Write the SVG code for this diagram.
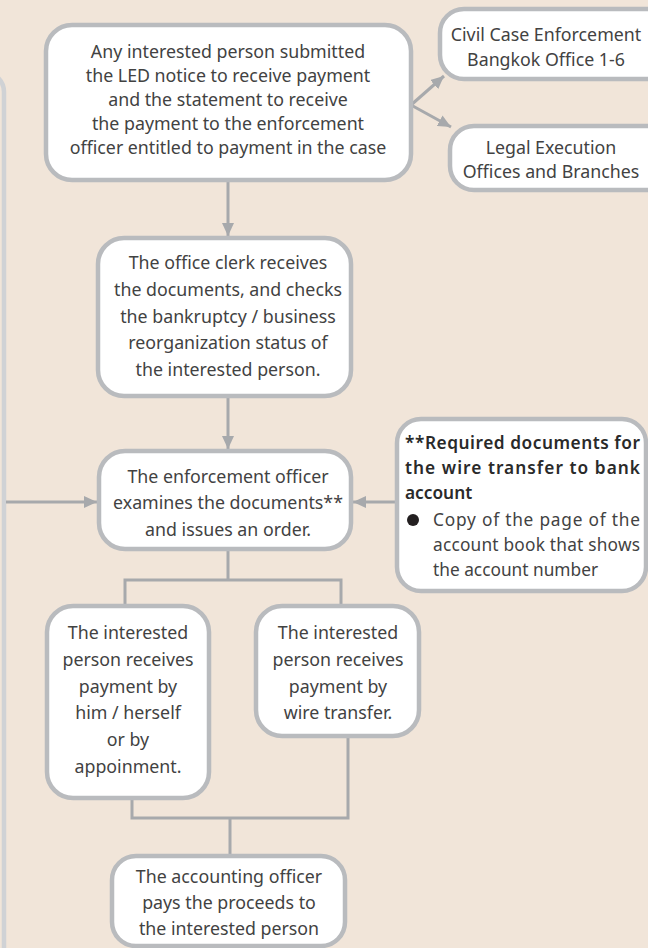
<svg xmlns="http://www.w3.org/2000/svg" width="648" height="948" viewBox="0 0 648 948">
<style>
.bg{fill:#f1e5d9}
.box{fill:#ffffff;stroke:#b9bbbe;stroke-width:4.5}
.side{fill:none;stroke:#d0d2d5;stroke-width:4.5}
.con{fill:none;stroke:#a7a9ac;stroke-width:3}
.t{font-family:"Noto Sans","Open Sans",sans-serif;font-size:17.8px;fill:#424242;text-anchor:middle}
.n{font-family:"Noto Sans","Open Sans",sans-serif;font-size:17.3px;fill:#424242}
.b{font-weight:600;fill:#2a2a2a}
</style>
<defs>
<marker id="arr" markerUnits="userSpaceOnUse" markerWidth="13" markerHeight="12" viewBox="0 0 13 12" refX="13" refY="6" orient="auto">
<path d="M0,0 L13,6 L0,12 z" fill="#a7a9ac"/>
</marker>
</defs>
<rect class="bg" x="0" y="0" width="648" height="948"/>
<rect id="left-panel" class="side" x="-200" y="72" width="204" height="900" rx="20"/>

<g id="connectors">
<line class="con" x1="411" y1="105" x2="444" y2="76" marker-end="url(#arr)"/>
<line class="con" x1="411" y1="105" x2="451" y2="127" marker-end="url(#arr)"/>
<line class="con" x1="228" y1="182" x2="228" y2="236" marker-end="url(#arr)"/>
<line class="con" x1="228" y1="398" x2="228" y2="449" marker-end="url(#arr)"/>
<line class="con" x1="6" y1="502" x2="97" y2="502" marker-end="url(#arr)"/>
<line class="con" x1="396" y1="502" x2="353" y2="502" marker-end="url(#arr)"/>
<polyline class="con" points="228,551 228,580"/>
<polyline class="con" points="125,604 125,580 341,580 341,604"/>
<polyline class="con" points="132,799 132,818 348,818 348,737"/>
<line class="con" x1="230" y1="818" x2="230" y2="855"/>
</g>

<g id="submit">
<rect class="box" x="46" y="25" width="365" height="155" rx="26"/>
<text class="t" x="228" y="58">Any interested person submitted</text>
<text class="t" x="228" y="82">the LED notice to receive payment</text>
<text class="t" x="228" y="106">and the statement to receive</text>
<text class="t" x="228" y="130">the payment to the enforcement</text>
<text class="t" x="228" y="154">officer entitled to payment in the case</text>
</g>

<g id="civil">
<rect class="box" x="440" y="9" width="230" height="70" rx="24"/>
<text class="t" x="546" y="41">Civil Case Enforcement</text>
<text class="t" x="546" y="66">Bangkok Office 1-6</text>
</g>

<g id="legal">
<rect class="box" x="450" y="126" width="220" height="64" rx="24"/>
<text class="t" x="551" y="154">Legal Execution</text>
<text class="t" x="551" y="178">Offices and Branches</text>
</g>

<g id="clerk">
<rect class="box" x="98" y="238" width="253" height="158" rx="26"/>
<text class="t" x="228" y="269">The office clerk receives</text>
<text class="t" x="228" y="296">the documents, and checks</text>
<text class="t" x="228" y="323">the bankruptcy / business</text>
<text class="t" x="228" y="349">reorganization status of</text>
<text class="t" x="228" y="376">the interested person.</text>
</g>

<g id="officer">
<rect class="box" x="99" y="451" width="252" height="98" rx="26"/>
<text class="t" x="228" y="483">The enforcement officer</text>
<text class="t" x="228" y="509">examines the documents**</text>
<text class="t" x="228" y="536">and issues an order.</text>
</g>

<g id="notes">
<rect class="box" x="397" y="419" width="249" height="172" rx="24"/>
<text class="n b" x="405" y="449" textLength="235" lengthAdjust="spacing">**Required documents for</text>
<text class="n b" x="405" y="474" textLength="235" lengthAdjust="spacing">the wire transfer to bank</text>
<text class="n b" x="405" y="499">account</text>
<circle cx="413" cy="520" r="6" fill="#231f20"/>
<text class="n" x="433" y="526" textLength="207" lengthAdjust="spacing">Copy of the page of the</text>
<text class="n" x="433" y="551" textLength="207" lengthAdjust="spacing">account book that shows</text>
<text class="n" x="433" y="576">the account number</text>
</g>

<g id="self">
<rect class="box" x="47" y="606" width="162" height="192" rx="26"/>
<text class="t" x="128" y="639">The interested</text>
<text class="t" x="128" y="666">person receives</text>
<text class="t" x="128" y="693">payment by</text>
<text class="t" x="128" y="719">him / herself</text>
<text class="t" x="128" y="746">or by</text>
<text class="t" x="128" y="773">appoinment.</text>
</g>

<g id="wire">
<rect class="box" x="256" y="606" width="163" height="130" rx="26"/>
<text class="t" x="338" y="639">The interested</text>
<text class="t" x="338" y="666">person receives</text>
<text class="t" x="338" y="693">payment by</text>
<text class="t" x="338" y="719">wire transfer.</text>
</g>

<g id="accounting">
<rect class="box" x="112" y="856" width="233" height="90" rx="24"/>
<text class="t" x="229" y="883">The accounting officer</text>
<text class="t" x="229" y="909">pays the proceeds to</text>
<text class="t" x="229" y="935">the interested person</text>
</g>
</svg>
